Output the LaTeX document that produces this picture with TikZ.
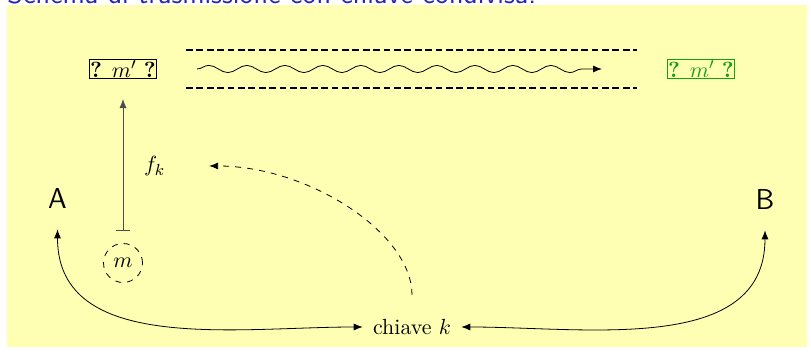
\documentclass[tikz,border=0pt]{standalone}
\usepackage{xcolor}
\usetikzlibrary{arrows.meta, positioning, decorations.pathmorphing}
\definecolor{titleblue}{RGB}{38,38,178}
\definecolor{boxyellow}{RGB}{255,255,180}
\definecolor{okgreen}{RGB}{20,160,20}

\begin{document}
\begin{tikzpicture}[x=0.5pt, y=0.5pt,
    >={Latex[length=4.5pt,width=3.5pt]},
    every node/.style={font=\fontsize{10.95}{13.6}\selectfont},
    party/.style={font=\sffamily\fontsize{14.4}{17}\selectfont, inner sep=10pt},
    msgbox/.style={draw, line width=0.6pt, inner sep=0.5pt},
    channel/.style={line width=1pt, dash pattern=on 3.4pt off 1.8pt}]
  % Frame: bounding box, yellow block and (cut) title
  \useasboundingbox (0,0) rectangle (811,357);
  \fill[boxyellow] (7,10) rectangle (807,352);
  \node[anchor=base west, inner sep=0pt, text=titleblue, font=\sffamily\fontsize{14.4}{17}\selectfont] (title) at (7,353.5) {Schema di trasmissione con chiave condivisa.};

  % Messages on both sides of the channel
  \node[msgbox] (mA) at (123,288) {\textbf{?} $m'$ \textbf{?}};
  \node[msgbox, draw=okgreen, text=okgreen] (mB) at (701,288) {\textbf{?} $m'$ \textbf{?}};

  % Channel
  \draw[channel] (186,307) -- (637,307);
  \draw[channel] (186,269) -- (637,269);
  \coordinate (wstart) at (197,288);
  \coordinate (wend) at (602,288);
  \draw[->, decorate, decoration={snake, amplitude=1.8pt, segment length=19pt, post length=10pt}] (wstart) -- (wend);

  % Parties and key
  \node[party] (A) at (57.5,158) {A};
  \node[party] (B) at (765,157) {B};
  \node[inner sep=5pt] (key) at (412,30) {chiave $k$};
  \node[circle, draw, dashed, minimum size=19.5pt, inner sep=0pt] (m) at (123,94) {$m$};

  % Encryption
  \draw[{Bar[width=7pt]}->, black!70, shorten <=6pt, shorten >=10pt] (m) -- node[pos=0.47, right=7pt, text=black] (fk) {$f_k$} (mA);
  \draw[->, dashed, shorten <=7pt, shorten >=18.5pt] (key.north) .. controls +(0,38pt) and +(68pt,0) .. (fk.east);

  % Key shared by A and B
  \draw[<->] (A) to[out=-90, in=180] (key);
  \draw[<->] (key) to[out=0, in=-90] (B);
\end{tikzpicture}
\end{document}
